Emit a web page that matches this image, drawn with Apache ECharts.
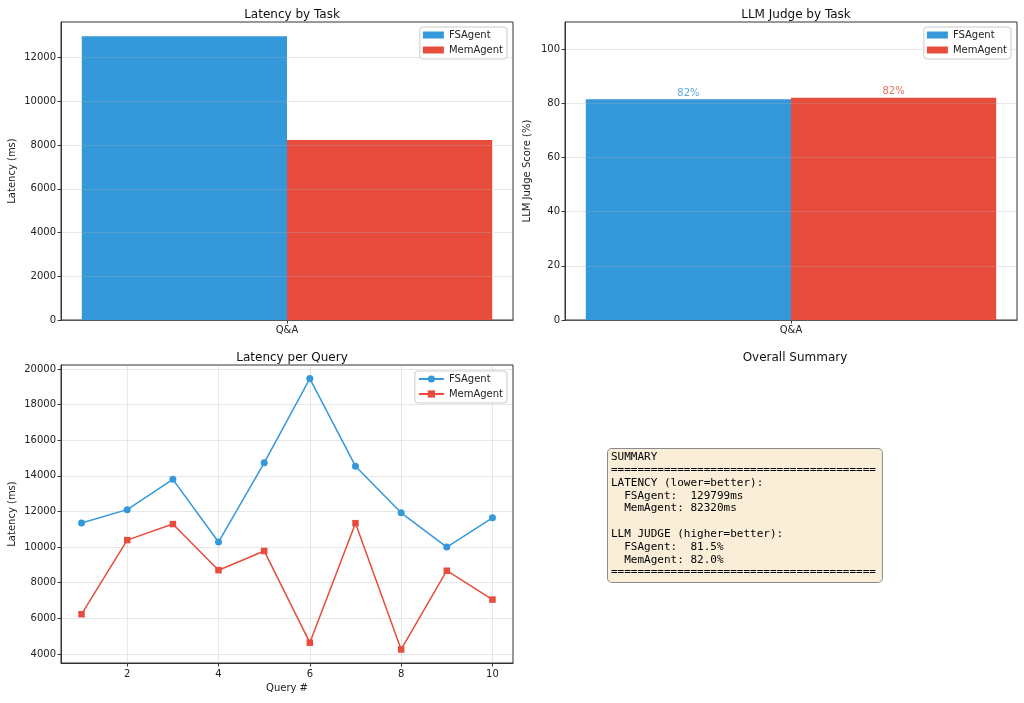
<!DOCTYPE html>
<html>
<head>
<meta charset="utf-8">
<script src="https://cdn.jsdelivr.net/npm/echarts@6/dist/echarts.min.js"></script>
<style>html,body{margin:0;padding:0;background:#fff}#c{width:1024px;height:703px}</style>
</head>
<body>
<div id="c"></div>
<script>
const tasks = ['Q&A'];
const agents = ['FSAgent', 'MemAgent'];
const colors = ['#3498db', '#e74c3c'];
const fsLatencyByTask = [12980];
const memLatencyByTask = [8232];
const fsJudgeByTask = [81.5];
const memJudgeByTask = [82.0];
const queries = [1, 2, 3, 4, 5, 6, 7, 8, 9, 10];
const fsLatency = [11350, 12100, 13800, 10280, 14730, 19460, 14540, 11920, 10000, 11640];
const memLatency = [6230, 10390, 11290, 8700, 9780, 4630, 11340, 4250, 8670, 7050];
const totalLatency = [129799, 82320];
const overallJudge = [81.5, 82.0];
const latencyTicks = [0, 2000, 4000, 6000, 8000, 10000, 12000];
const judgeTicks = [0, 20, 40, 60, 80, 100];
const queryTicks = [2, 4, 6, 8, 10];
const queryLatencyTicks = [4000, 6000, 8000, 10000, 12000, 14000, 16000, 18000, 20000];

const FONT = 'DejaVu Sans';
const TXT = '#222';
const gridLine = 'rgba(176,176,176,0.3)';
const plain = v => String(v);

const allQ = fsLatency.concat(memLatency);
const qLo = Math.min(...allQ), qHi = Math.max(...allQ), qPad = (qHi - qLo) * 0.05;

function axisCommon(extra) {
  return Object.assign({
    axisLine: {show: true, lineStyle: {color: '#333', width: 1}},
    axisTick: {show: true, length: 3.5, lineStyle: {color: '#333'}},
    axisLabel: {fontFamily: FONT, fontSize: 10, color: TXT, margin: 5},
    nameTextStyle: {fontFamily: FONT, fontSize: 10, color: TXT},
  }, extra);
}

const grids = [
  {left: 61, top: 22, width: 452, height: 298},
  {left: 565, top: 22, width: 452, height: 298},
  {left: 61, top: 365, width: 452, height: 298}
].map(g => Object.assign(g, {show: true, borderColor: '#333', borderWidth: 1, backgroundColor: 'transparent', outerBoundsMode: 'none'}));

const legendBase = {
  orient: 'vertical', itemGap: 5, padding: [3, 4, 4, 3],
  backgroundColor: 'rgba(255,255,255,0.8)', borderColor: '#ccc', borderWidth: 1, borderRadius: 3,
  textStyle: {fontFamily: FONT, fontSize: 10, color: TXT},
  formatter: n => n.trim()
};

const summaryText = [
  'SUMMARY',
  '='.repeat(40),
  'LATENCY (lower=better):',
  '  ' + agents[0] + ':  ' + totalLatency[0] + 'ms',
  '  ' + agents[1] + ': ' + totalLatency[1] + 'ms',
  '',
  'LLM JUDGE (higher=better):',
  '  ' + agents[0] + ':  ' + overallJudge[0].toFixed(1) + '%',
  '  ' + agents[1] + ': ' + overallJudge[1].toFixed(1) + '%',
  '='.repeat(40)
].join('\n');

const titleStyle = {fontFamily: FONT, fontSize: 12, fontWeight: 'normal', color: '#111'};

const option = {
  backgroundColor: '#fff',
  animation: false,
  title: [
    {text: 'Latency by Task', left: 287, top: 4, textAlign: 'center', textStyle: titleStyle},
    {text: 'LLM Judge by Task', left: 791, top: 4, textAlign: 'center', textStyle: titleStyle},
    {text: 'Latency per Query', left: 287, top: 347, textAlign: 'center', textStyle: titleStyle},
    {text: 'Overall Summary', left: 790, top: 347, textAlign: 'center', textStyle: titleStyle}
  ],
  grid: grids,
  legend: [
    Object.assign({}, legendBase, {right: 517, top: 27, data: agents, icon: 'rect', itemWidth: 21, itemHeight: 7}),
    Object.assign({}, legendBase, {right: 13, top: 27, data: agents, icon: 'rect', itemWidth: 21, itemHeight: 7}),
    Object.assign({}, legendBase, {right: 517, top: 371, data: agents.map(a => a + ' '), itemWidth: 25, itemHeight: 9})
  ],
  xAxis: [
    axisCommon({type: 'category', gridIndex: 0, data: tasks, boundaryGap: true,
      axisTick: {show: true, alignWithLabel: true, length: 3.5, lineStyle: {color: '#333'}}, splitLine: {show: false}}),
    axisCommon({type: 'category', gridIndex: 1, data: tasks, boundaryGap: true,
      axisTick: {show: true, alignWithLabel: true, length: 3.5, lineStyle: {color: '#333'}}, splitLine: {show: false}}),
    axisCommon({type: 'value', gridIndex: 2, min: 0.55, max: 10.45, name: 'Query #', nameLocation: 'middle', nameGap: 20,
      axisTick: {show: true, length: 3.5, lineStyle: {color: '#333'}, customValues: queryTicks},
      axisLabel: {fontFamily: FONT, fontSize: 10, color: TXT, margin: 6, customValues: queryTicks, formatter: plain},
      splitLine: {show: true, lineStyle: {color: gridLine, width: 1}}})
  ],
  yAxis: [
    axisCommon({type: 'value', gridIndex: 0, min: 0, max: fsLatencyByTask[0] * 1.05, z: 3,
      name: 'Latency (ms)', nameLocation: 'middle', nameGap: 44,
      axisTick: {show: true, length: 3.5, lineStyle: {color: '#333'}, customValues: latencyTicks},
      axisLabel: {fontFamily: FONT, fontSize: 10, color: TXT, margin: 5, customValues: latencyTicks, formatter: plain},
      splitLine: {show: true, lineStyle: {color: gridLine, width: 1}}}),
    axisCommon({type: 'value', gridIndex: 1, min: 0, max: 110, z: 3,
      name: 'LLM Judge Score (%)', nameLocation: 'middle', nameGap: 33,
      axisTick: {show: true, length: 3.5, lineStyle: {color: '#333'}, customValues: judgeTicks},
      axisLabel: {fontFamily: FONT, fontSize: 10, color: TXT, margin: 5, customValues: judgeTicks, formatter: plain},
      splitLine: {show: true, lineStyle: {color: gridLine, width: 1}}}),
    axisCommon({type: 'value', gridIndex: 2, min: qLo - qPad, max: qHi + qPad,
      name: 'Latency (ms)', nameLocation: 'middle', nameGap: 44,
      axisTick: {show: true, length: 3.5, lineStyle: {color: '#333'}, customValues: queryLatencyTicks},
      axisLabel: {fontFamily: FONT, fontSize: 10, color: TXT, margin: 5, customValues: queryLatencyTicks, formatter: plain},
      splitLine: {show: true, lineStyle: {color: gridLine, width: 1}}})
  ],
  series: [
    {type: 'bar', name: agents[0], xAxisIndex: 0, yAxisIndex: 0, data: fsLatencyByTask, barWidth: '45.4%', barGap: '0%',
      itemStyle: {color: colors[0]}},
    {type: 'bar', name: agents[1], xAxisIndex: 0, yAxisIndex: 0, data: memLatencyByTask, barWidth: '45.4%', barGap: '0%',
      itemStyle: {color: colors[1]}},
    {type: 'bar', name: agents[0], xAxisIndex: 1, yAxisIndex: 1, data: fsJudgeByTask, barWidth: '45.4%', barGap: '0%',
      itemStyle: {color: colors[0]},
      label: {show: true, position: 'top', distance: 1, color: '#5aa9e0', fontFamily: FONT, fontSize: 10, formatter: p => Math.round(p.value) + '%'}},
    {type: 'bar', name: agents[1], xAxisIndex: 1, yAxisIndex: 1, data: memJudgeByTask, barWidth: '45.4%', barGap: '0%',
      itemStyle: {color: colors[1]},
      label: {show: true, position: 'top', distance: 1, color: '#ec6f63', fontFamily: FONT, fontSize: 10, formatter: p => Math.round(p.value) + '%'}},
    {type: 'line', name: agents[0] + ' ', xAxisIndex: 2, yAxisIndex: 2, data: queries.map((q, i) => [q, fsLatency[i]]),
      symbol: 'circle', symbolSize: 7, lineStyle: {color: colors[0], width: 1.5}, itemStyle: {color: colors[0]}},
    {type: 'line', name: agents[1] + ' ', xAxisIndex: 2, yAxisIndex: 2, data: queries.map((q, i) => [q, memLatency[i]]),
      symbol: 'rect', symbolSize: 6.5, lineStyle: {color: colors[1], width: 1.5}, itemStyle: {color: colors[1]}}
  ],
  graphic: [
    {type: 'text', left: 607, top: 448, z: 10,
      style: {text: summaryText, font: '11px "DejaVu Sans Mono"', lineHeight: 12.8, fill: '#000',
        backgroundColor: '#faeed9', borderColor: '#8a8a8a', borderWidth: 1, borderRadius: 4, padding: [2, 6, 3, 3]}}
  ]
};

const chart = echarts.init(document.getElementById('c'), null, {renderer: 'canvas'});
chart.setOption(option);
</script>
</body>
</html>
